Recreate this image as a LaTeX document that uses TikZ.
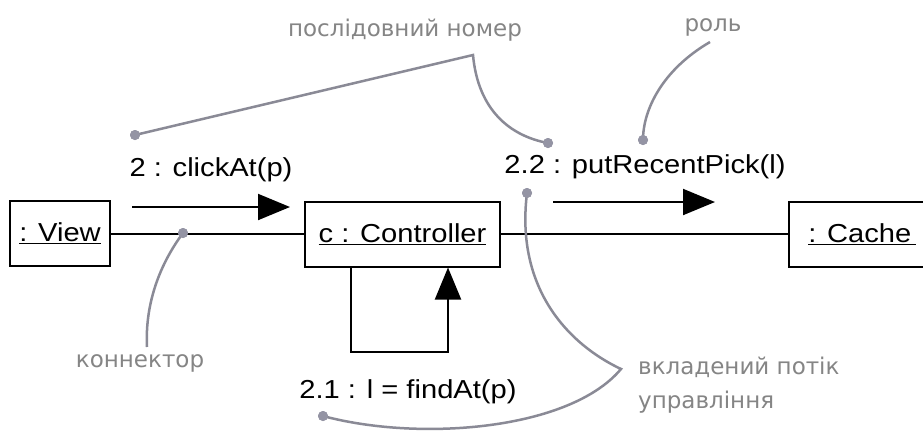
\documentclass[tikz,border=0pt]{standalone}
\usepackage{fontspec}
\setmainfont[FakeStretch=1.12]{Liberation Sans}
\newfontfamily\notefont{DejaVu Sans}
\usetikzlibrary{arrows.meta}
\definecolor{notegray}{HTML}{8A8A96}
\definecolor{notetext}{HTML}{858585}
\definecolor{dotgray}{HTML}{9494A4}

\begin{document}
\begin{tikzpicture}[x=1pt,y=-1pt,
  obj/.style={draw, line width=2pt, minimum height=65pt, inner sep=0pt,
    font=\fontsize{26}{30}\selectfont},
  msg/.style={font=\fontsize{26}{30}\selectfont, inner sep=0pt},
  flow/.style={line width=2pt, -{Triangle[length=32pt,width=26pt]}},
  link/.style={line width=2pt},
  note/.style={font=\notefont\fontsize{23}{34}\selectfont, text=notetext, inner sep=0pt},
  lead/.style={draw=notegray, line width=2.5pt},
  pin/.style={circle, fill=dotgray, minimum size=10pt, inner sep=0pt}
]
\clip (0,0) rectangle (923,432);
\fill[white] (0,0) rectangle (923,432);

% objects
\node[obj, minimum width=100pt] (view) at (60,233.5) {\underline{: View}};
\node[obj, minimum width=195pt] (ctrl) at (402.5,234) {\underline{c : Controller}};
\node[obj, minimum width=146pt] (cache) at (862,234.5) {\underline{: Cache\,}};

% links between objects
\draw[link] (view.east) -- (view.east -| ctrl.west);
\draw[link] (ctrl.east) -- (ctrl.east -| cache.west);

% messages
\coordinate (m1s) at (132,207);
\coordinate (m1e) at (290,207);
\draw[flow] (m1s) -- (m1e);
\node[msg] (m1) at (211,170) {2 : clickAt(p)};

\coordinate (m2s) at (553,202);
\coordinate (m2e) at (715,202);
\draw[flow] (m2s) -- (m2e);
\node[msg] (m2) at (645,167) {2.2 : putRecentPick(l)};

\coordinate (loopL) at (351,352);
\coordinate (loopR) at (448,352);
\draw[flow] (ctrl.south -| loopL) -- (loopL) -- (loopR) -- (ctrl.south -| loopR);
\node[msg] (m3) at (408,392) {2.1 : l = findAt(p)};

% annotations
\node[note] (seqnote) at (405,30) {послідовний номер};
\node[note] (rolenote) at (713,27) {роль};
\node[note] (connnote) at (140,363) {коннектор};
\node[note, anchor=west, align=left] (nestnote) at (638,385) {вкладений потік\\управління};

\node[pin] (pA) at (135,135) {};
\node[pin] (pB) at (548,143) {};
\node[pin] (pRole) at (643,140) {};
\node[pin] (pConn) at (183,233) {};
\node[pin] (pC) at (527,193) {};
\node[pin] (pD) at (323,416) {};

\coordinate (seqbend) at (473,55);
\coordinate (roletop) at (710,42);
\coordinate (connend) at (147,347);
\coordinate (nestcusp) at (621,369);

\draw[lead] (pA.center) -- (seqbend) .. controls (478,110) and (510,136) .. (pB.center);
\draw[lead] (roletop) .. controls (662,70) and (643,110) .. (pRole.center);
\draw[lead] (pConn.center) .. controls (157,268) and (145,308) .. (connend);
\draw[lead] (pC.center) .. controls (515,290) and (570,345) .. (nestcusp)
  .. controls (570,430) and (420,442) .. (pD.center);

% dots drawn over the leader lines
\foreach \p in {pA,pB,pRole,pConn,pC,pD}
  \fill[dotgray] (\p) circle (5pt);
\end{tikzpicture}
\end{document}
